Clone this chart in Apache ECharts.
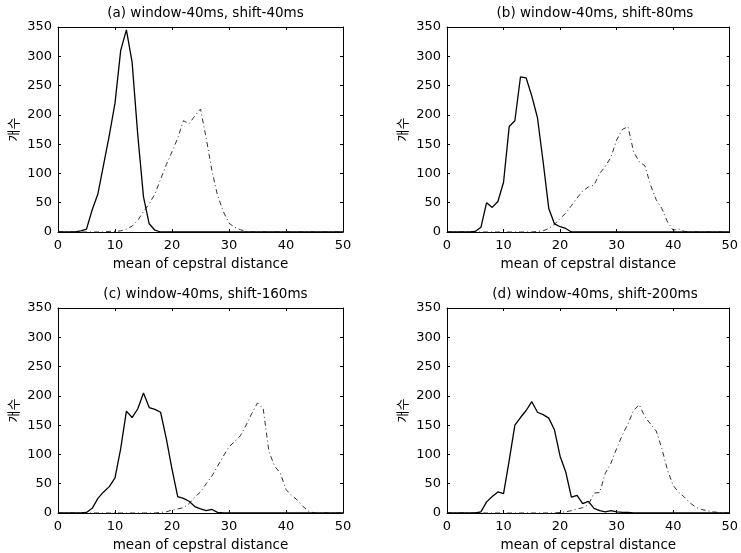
<!DOCTYPE html>
<html><head><meta charset="utf-8">
<script src="https://cdn.jsdelivr.net/npm/echarts@6/dist/echarts.min.js"></script>
<style>html,body{margin:0;padding:0;background:#fff}#c{width:741px;height:553px}</style>
</head><body><div id="c"></div>
<script>
const distance = [0,1,2,3,4,5,6,7,8,9,10,11,12,13,14,15,16,17,18,19,20,21,22,23,24,25,26,27,28,29,30,31,32,33,34,35,36,37,38,39,40,41,42,43,44,45,46,47,48,49,50];
const panelTitles = ['(a) window-40ms, shift-40ms','(b) window-40ms, shift-80ms','(c) window-40ms, shift-160ms','(d) window-40ms, shift-200ms'];
const xTitle = 'mean of cepstral distance';
const yTitle = '개수';
const xTicks = [0,10,20,30,40,50];
const yTicks = [0,50,100,150,200,250,300,350];

const solidA = [0,0,0,0,2,5,38,65,115,165,220,310,345,290,165,60,14,3,0,0,0,0,0,0,0,0,0,0,0,0,0,0,0,0,0,0,0,0,0,0,0,0,0,0,0,0,0,0,0,0,0];
const dashA  = [0,0,0,0,0,0,0,0,0,1,1,2,5,10,20,35,48,65,90,115,137,160,190,185,198,210,160,105,62,35,15,8,4,1,0,0,0,0,0,0,0,0,0,0,0,0,0,0,0,0,0];
const solidB = [0,0,0,0,0,1,8,50,42,52,85,180,190,265,263,232,195,120,40,14,9,6,0,0,0,0,0,0,0,0,0,0,0,0,0,0,0,0,0,0,0,0,0,0,0,0,0,0,0,0,0];
const dashB  = [0,0,0,0,0,0,0,0,0,0,0,0,0,0,0,0,1,2,6,13,23,32,45,58,70,77,80,100,112,128,157,175,180,137,120,113,80,55,40,17,3,5,1,0,0,0,0,0,0,0,0];
const solidC = [0,0,0,0,0,1,8,25,36,45,60,110,174,163,178,205,180,177,172,127,75,28,25,20,11,7,4,6,1,0,0,0,0,0,0,0,0,0,0,0,0,0,0,0,0,0,0,0,0,0,0];
const dashC  = [0,0,0,0,0,0,0,0,0,0,0,0,0,0,0,0,0,0,1,2,5,7,9,16,27,36,50,63,80,97,113,122,132,150,170,188,178,105,80,68,40,30,22,11,3,0,0,0,0,0,0];
const solidD = [0,0,0,0,0,0,2,19,28,36,33,90,150,163,175,190,172,168,162,142,97,70,27,30,16,20,8,4,2,4,2,1,1,0,0,0,0,0,0,0,0,0,0,0,0,0,0,0,0,0,0];
const dashD  = [0,0,0,0,0,0,0,0,0,0,0,0,0,0,0,0,0,0,0,0,1,2,4,7,9,14,34,35,68,85,110,133,152,175,185,164,152,140,110,73,47,35,27,17,10,6,4,2,1,0,0];

const solidSeries = [solidA, solidB, solidC, solidD];
const dashSeries = [dashA, dashB, dashC, dashD];

const FONT = 'DejaVu Sans';
const grids = [
  {left:58, top:27, width:285, height:205},
  {left:447, top:27, width:286, height:205},
  {left:58, top:308, width:285, height:205},
  {left:447, top:308, width:286, height:205}
];
const axLine = {show:true, onZero:false, lineStyle:{color:'#000', width:1}};
const tick = {show:true, inside:true, length:3, lineStyle:{color:'#000'}};
const xAxes = [], yAxes = [], series = [], titles = [];
grids.forEach((g, i) => {
  xAxes.push({type:'value', gridIndex:i, min:xTicks[0], max:xTicks[xTicks.length-1], interval:xTicks[1]-xTicks[0],
    position:'bottom', axisLine:axLine, axisTick:tick, splitLine:{show:false},
    axisLabel:{color:'#000', fontFamily:FONT, fontSize:13, margin:7},
    name:xTitle, nameLocation:'middle', nameGap:25,
    nameTextStyle:{color:'#000', fontFamily:FONT, fontSize:13.5}});
  xAxes.push({type:'value', gridIndex:i, min:xTicks[0], max:xTicks[xTicks.length-1], interval:xTicks[1]-xTicks[0],
    position:'top', axisLine:axLine, axisTick:tick, splitLine:{show:false}, axisLabel:{show:false}});
  yAxes.push({type:'value', gridIndex:i, min:yTicks[0], max:yTicks[yTicks.length-1], interval:yTicks[1]-yTicks[0],
    position:'left', axisLine:axLine, axisTick:tick, splitLine:{show:false},
    axisLabel:{color:'#000', fontFamily:FONT, fontSize:13, margin:6},
    name:yTitle, nameLocation:'middle', nameGap:38, nameRotate:90,
    nameTextStyle:{color:'#000', fontFamily:'Noto Sans CJK KR', fontSize:13}});
  yAxes.push({type:'value', gridIndex:i, min:yTicks[0], max:yTicks[yTicks.length-1], interval:yTicks[1]-yTicks[0],
    position:'right', axisLine:axLine, axisTick:tick, splitLine:{show:false}, axisLabel:{show:false}});
  titles.push({text:panelTitles[i], left:g.left + g.width/2, top:g.top - 26, textAlign:'center',
    textStyle:{color:'#000', fontFamily:FONT, fontSize:13.5, fontWeight:'normal'}});
  series.push({type:'line', xAxisIndex:2*i, yAxisIndex:2*i, symbol:'none', silent:true,
    data: distance.map((d, k) => [d, dashSeries[i][k]]),
    lineStyle:{color:'#333', width:1, type:[5,3,1,3]}});
  series.push({type:'line', xAxisIndex:2*i, yAxisIndex:2*i, symbol:'none', silent:true,
    data: distance.map((d, k) => [d, solidSeries[i][k]]),
    lineStyle:{color:'#000', width:1.3}});
});
const chart = echarts.init(document.getElementById('c'), null, {renderer:'canvas'});
chart.setOption({backgroundColor:'#fff', animation:false, title:titles, grid:grids, xAxis:xAxes, yAxis:yAxes, series:series});
</script></body></html>
